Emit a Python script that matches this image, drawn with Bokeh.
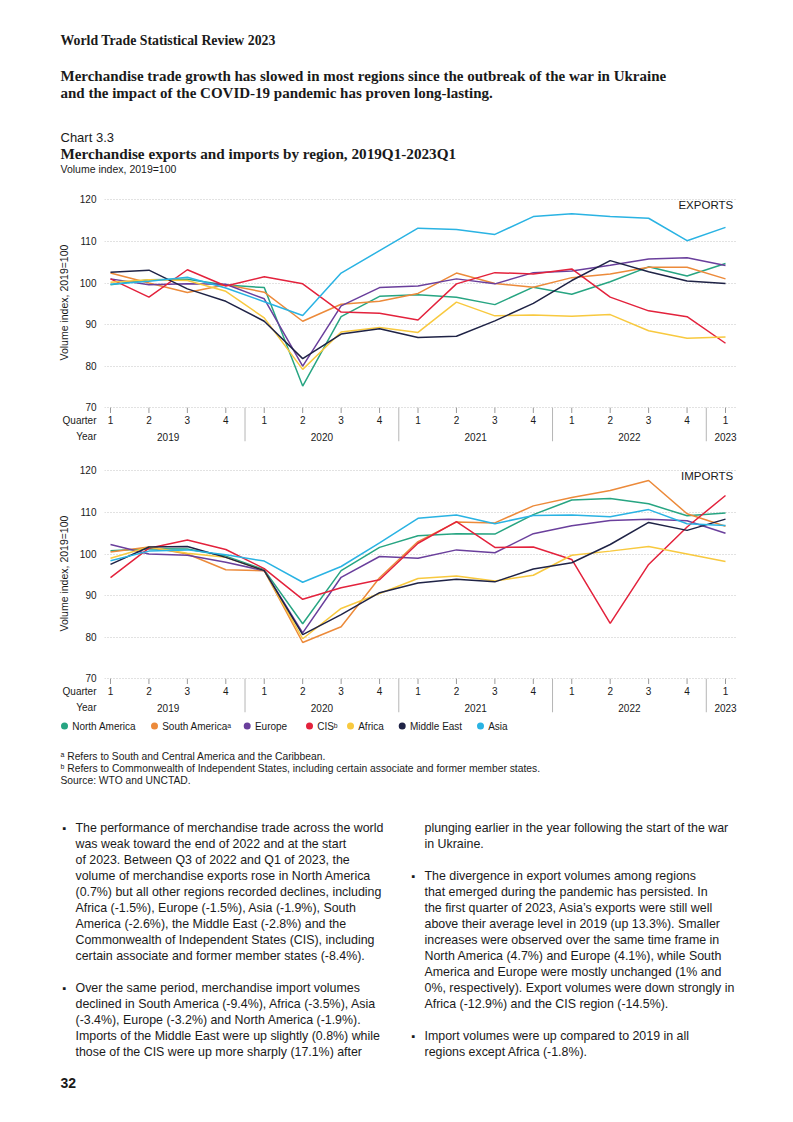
from bokeh.plotting import figure
from bokeh.models import ColumnDataSource, Range1d, FixedTicker, Title
from bokeh.layouts import column
from bokeh.core.properties import value
from bokeh.embed import file_html
from bokeh.resources import INLINE

# ---------------- data ----------------
QUARTER_LABELS = ["1", "2", "3", "4", "1", "2", "3", "4", "1", "2", "3", "4", "1", "2", "3", "4", "1"]
YEARS = ["2019", "2020", "2021", "2022", "2023"]
QUARTERS_PER_YEAR = [4, 4, 4, 4, 1]
REGIONS = ["North America", "South America", "Europe", "CIS", "Africa", "Middle East", "Asia"]
LEGEND_LABELS = ["North America", "South America\u1d43", "Europe", "CIS\u1d47", "Africa", "Middle East", "Asia"]
COLORS = ["#27a582", "#ec8a3a", "#6a3f9c", "#e3223c", "#f8c93f", "#1f2346", "#2ab3e3"]
Y_TICKS = [70, 80, 90, 100, 110, 120]

exp_north_america = [99.6, 100.8, 100.9, 99.5, 98.9, 75.2, 91.9, 96.8, 97.2, 96.6, 94.8, 99.0, 97.3, 100.3, 103.9, 101.7, 104.7]
exp_south_america = [102.4, 100.0, 97.7, 99.6, 97.8, 90.8, 94.9, 95.6, 97.5, 102.4, 99.9, 99.0, 101.3, 102.2, 103.8, 103.8, 101.0]
exp_europe = [101.0, 99.6, 99.8, 99.7, 96.2, 80.0, 94.5, 98.9, 99.3, 101.0, 99.8, 102.5, 102.9, 104.3, 105.8, 106.1, 104.2]
exp_cis = [101.0, 96.6, 103.2, 99.3, 101.5, 99.8, 93.0, 92.7, 91.1, 99.8, 102.5, 102.2, 103.4, 96.6, 93.3, 91.9, 85.5]
exp_africa = [100.2, 100.8, 100.6, 98.0, 91.6, 79.2, 88.2, 89.3, 88.1, 95.4, 92.1, 92.3, 92.0, 92.4, 88.5, 86.7, 87.0]
exp_middle_east = [102.6, 103.1, 98.6, 95.6, 90.8, 81.8, 87.7, 89.0, 86.9, 87.2, 90.9, 95.1, 100.6, 105.4, 102.7, 100.5, 99.9]
exp_asia = [99.7, 100.4, 101.4, 98.8, 95.5, 92.2, 102.4, 107.8, 113.2, 112.9, 111.7, 116.0, 116.7, 116.0, 115.6, 110.2, 113.4]

imp_north_america = [100.8, 101.3, 101.2, 99.5, 96.2, 83.2, 96.0, 101.6, 104.4, 104.9, 104.8, 109.5, 113.0, 113.4, 112.1, 109.2, 109.9]
imp_south_america = [100.5, 101.7, 100.0, 96.2, 96.0, 78.7, 82.5, 94.3, 103.0, 107.7, 107.5, 111.6, 113.6, 115.3, 117.7, 109.7, 106.7]
imp_europe = [102.3, 100.0, 99.7, 98.0, 96.0, 81.0, 94.4, 99.4, 99.0, 101.0, 100.3, 104.9, 106.8, 108.1, 108.4, 108.0, 105.0]
imp_cis = [94.3, 101.4, 103.4, 101.1, 96.5, 89.1, 91.9, 93.8, 102.6, 107.8, 101.6, 101.7, 98.7, 83.3, 97.5, 106.5, 114.1]
imp_africa = [99.0, 101.7, 100.2, 99.2, 96.0, 79.6, 86.9, 90.5, 94.1, 94.7, 93.5, 94.9, 99.7, 100.7, 101.8, 100.0, 98.2]
imp_middle_east = [97.5, 101.7, 101.8, 99.2, 96.0, 80.6, 85.4, 90.7, 93.0, 93.9, 93.3, 96.4, 97.9, 102.3, 107.6, 105.7, 108.4]
imp_asia = [98.4, 100.7, 101.0, 99.8, 98.3, 93.2, 97.0, 102.7, 108.6, 109.4, 107.3, 109.3, 109.4, 109.0, 110.7, 107.3, 106.9]

EXPORTS = [exp_north_america, exp_south_america, exp_europe, exp_cis, exp_africa, exp_middle_east, exp_asia]
IMPORTS = [imp_north_america, imp_south_america, imp_europe, imp_cis, imp_africa, imp_middle_east, imp_asia]

# ---------------- texts ----------------
RUNNING_HEAD = "World Trade Statistical Review 2023"
HEADLINE = ["Merchandise trade growth has slowed in most regions since the outbreak of the war in Ukraine",
            "and the impact of the COVID-19 pandemic has proven long-lasting."]
CHART_NO = "Chart 3.3"
CHART_TITLE = "Merchandise exports and imports by region, 2019Q1-2023Q1"
CHART_SUB = "Volume index, 2019=100"
Y_TITLE = "Volume index, 2019=100"
FOOTNOTES = ["\u1d43 Refers to South and Central America and the Caribbean.",
             "\u1d47 Refers to Commonwealth of Independent States, including certain associate and former member states.",
             "Source: WTO and UNCTAD."]
LEFT_BULLET_1 = ["The performance of merchandise trade across the world",
                 "was weak toward the end of 2022 and at the start",
                 "of 2023. Between Q3 of 2022 and Q1 of 2023, the",
                 "volume of merchandise exports rose in North America",
                 "(0.7%) but all other regions recorded declines, including",
                 "Africa (-1.5%), Europe (-1.5%), Asia (-1.9%), South",
                 "America (-2.6%), the Middle East (-2.8%) and the",
                 "Commonwealth of Independent States (CIS), including",
                 "certain associate and former member states (-8.4%)."]
LEFT_BULLET_2 = ["Over the same period, merchandise import volumes",
                 "declined in South America (-9.4%), Africa (-3.5%), Asia",
                 "(-3.4%), Europe (-3.2%) and North America (-1.9%).",
                 "Imports of the Middle East were up slightly (0.8%) while",
                 "those of the CIS were up more sharply (17.1%) after"]
RIGHT_CONT = ["plunging earlier in the year following the start of the war",
              "in Ukraine."]
RIGHT_BULLET_1 = ["The divergence in export volumes among regions",
                  "that emerged during the pandemic has persisted. In",
                  "the first quarter of 2023, Asia\u2019s exports were still well",
                  "above their average level in 2019 (up 13.3%). Smaller",
                  "increases were observed over the same time frame in",
                  "North America (4.7%) and Europe (4.1%), while South",
                  "America and Europe were mostly unchanged (1% and",
                  "0%, respectively). Export volumes were down strongly in",
                  "Africa (-12.9%) and the CIS region (-14.5%)."]
RIGHT_BULLET_2 = ["Import volumes were up compared to 2019 in all",
                  "regions except Africa (-1.8%)."]
PAGE_NO = "32"

# ---------------- layout / styles ----------------
SANS = value("Liberation Sans")
SERIF = value("Liberation Serif")
INK = "#1a1a1a"
W = 793
QUARTER_ROW = 67
YEAR_ROW = 63
SEP_BOTTOM = 61.9
TICK_BOTTOM = 68.7
LEGEND_DOT_X = [64, 154, 246.7, 309, 350, 401.7, 480]


def page_fig(top, bottom):
    f = figure(width=W, height=bottom - top, x_range=Range1d(0, W), y_range=Range1d(bottom, top),
               output_backend="svg", toolbar_location=None, x_axis_location=None, y_axis_location=None,
               min_border=0, outline_line_color=None)
    f.grid.visible = False
    return f


def put(f, x, y, txt, size, font=SANS, style="normal", align="left", color=INK):
    f.text(x=[x], y=[y], text=[txt], text_font=font, text_font_size=size, text_font_style=style,
           text_align=align, text_baseline="middle", text_color=color)


def make_chart(series, label, height, bottom_border):
    p = figure(width=W, height=height, output_backend="svg", toolbar_location=None,
               x_range=Range1d(-0.156, 16.312), y_range=Range1d(61.6, 121.8),
               x_axis_location=None, min_border_left=104, min_border_right=56,
               min_border_top=7, min_border_bottom=bottom_border, outline_line_color=None)
    p.xgrid.visible = False
    yax = p.yaxis[0]
    yax.ticker = FixedTicker(ticks=[YEAR_ROW, QUARTER_ROW] + Y_TICKS)
    yax.major_label_overrides = {YEAR_ROW: "Year", QUARTER_ROW: "Quarter"}
    yax.axis_line_color = None
    yax.major_tick_line_color = None
    yax.minor_tick_line_color = None
    yax.major_tick_in = 0
    yax.major_tick_out = 0
    yax.major_label_standoff = 8
    yax.major_label_text_font = "Liberation Sans"
    yax.major_label_text_font_size = "10px"
    yax.major_label_text_color = INK

    y_title = Title(text=Y_TITLE, align="left", offset=82, vertical_align="bottom", standoff=-21,
                    text_font="Liberation Sans", text_font_size="10.5px", text_font_style="normal",
                    text_color=INK)
    p.add_layout(y_title, "left")

    p.ygrid.ticker = FixedTicker(ticks=Y_TICKS)
    p.ygrid.grid_line_color = "#c4c4c4"
    p.ygrid.grid_line_dash = "1 2"
    p.ygrid.grid_line_width = 1

    xs = list(range(len(QUARTER_LABELS)))
    p.segment(x0=xs, y0=[Y_TICKS[0]] * len(xs), x1=xs, y1=[TICK_BOTTOM] * len(xs),
              line_color="#9a9a9a", line_width=1)
    p.text(x=xs, y=[QUARTER_ROW] * len(xs), text=QUARTER_LABELS, text_font=SANS,
           text_font_size="10px", text_align="center", text_baseline="middle", text_color=INK)
    starts, acc = [], 0
    for n in QUARTERS_PER_YEAR:
        starts.append(acc)
        acc += n
    centers = [s + (n - 1) / 2 for s, n in zip(starts, QUARTERS_PER_YEAR)]
    seps = [s - 0.5 for s in starts[1:]]
    p.text(x=centers, y=[YEAR_ROW] * len(centers), text=YEARS, text_font=SANS,
           text_font_size="10px", text_align="center", text_baseline="middle", text_color=INK)
    p.segment(x0=seps, y0=[Y_TICKS[0]] * len(seps), x1=seps, y1=[SEP_BOTTOM] * len(seps),
              line_color="#b5b5b5", line_width=1)

    for name, color, vals in zip(REGIONS, COLORS, series):
        src = ColumnDataSource(dict(x=xs, y=vals))
        p.line("x", "y", source=src, line_color=color, line_width=1.5, name=name)

    p.text(x=[16.2], y=[118.8], text=[label], text_font=SANS, text_font_size="11.5px",
           text_align="right", text_baseline="middle", text_color=INK)
    return p


# ---------------- header ----------------
header = page_fig(0, 185)
put(header, 60, 39.5, RUNNING_HEAD, "13.8px", font=SERIF, style="bold")
for i, line in enumerate(HEADLINE):
    put(header, 60, 75.7 + i * 17, line, "15px", font=SERIF, style="bold")
put(header, 60, 137, CHART_NO, "13px")
put(header, 60, 153, CHART_TITLE, "15.2px", font=SERIF, style="bold")
put(header, 60, 168.5, CHART_SUB, "10.5px")

# ---------------- charts ----------------
exp_fig = make_chart(EXPORTS, "EXPORTS", 271, 14)
imp_fig = make_chart(IMPORTS, "IMPORTS", 260, 3)

# ---------------- footer ----------------
footer = page_fig(716, 1120)
legend_y = [725.5] * len(LEGEND_LABELS)
footer.scatter(x=LEGEND_DOT_X, y=legend_y, marker="circle", size=7, fill_color=COLORS, line_color=None)
footer.text(x=[x + 7.7 for x in LEGEND_DOT_X], y=legend_y, text=LEGEND_LABELS, text_font=SANS,
            text_font_size="10px", text_align="left", text_baseline="middle", text_color=INK)

for i, line in enumerate(FOOTNOTES):
    put(footer, 60, 755.7 + i * 12.2, line, "10.3px")

LINE = 16


def paragraph(x_bullet, x_text, y0, lines, bullet=True):
    if bullet:
        put(footer, x_bullet, y0, "\u25aa", "11px")
    for i, line in enumerate(lines):
        put(footer, x_text, y0 + i * LINE, line, "12.4px")


paragraph(62, 75, 827.7, LEFT_BULLET_1)
paragraph(62, 75, 987.7, LEFT_BULLET_2)
paragraph(411, 424, 827.7, RIGHT_CONT, bullet=False)
paragraph(411, 424, 875.7, RIGHT_BULLET_1)
paragraph(411, 424, 1035.7, RIGHT_BULLET_2)
put(footer, 60, 1082.7, PAGE_NO, "14px", style="bold")

layout = column(header, column(exp_fig, imp_fig), footer, spacing=0)
open("out.html", "w").write(file_html(layout, INLINE))
